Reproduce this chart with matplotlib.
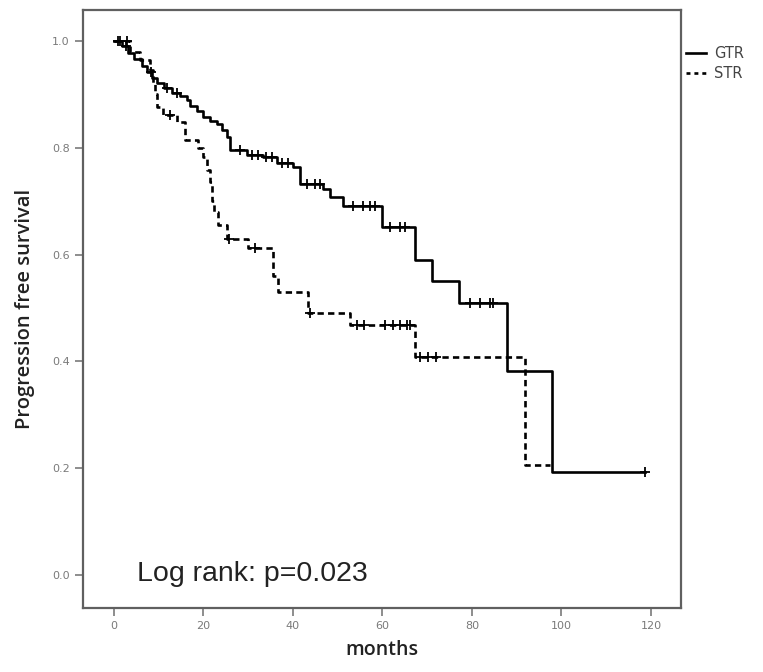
import numpy as np
import matplotlib
matplotlib.use("Agg")
import matplotlib.pyplot as plt
from matplotlib.lines import Line2D

# Kaplan-Meier: tempos dos eventos (meses) e sobrevida apos cada evento
gtr_event_t = [1.8, 3.2, 4.6, 6.2, 7.4, 8.6, 9.6, 11.2, 13.0, 14.8, 16.3, 17.0, 18.5, 19.9,
               21.5, 23.0, 24.2, 25.3, 25.9, 29.7, 33.3, 36.4, 40.0, 41.6, 46.7, 48.3, 51.2,
               59.9, 67.3, 71.1, 77.1, 87.8, 97.9]
gtr_surv = [0.99, 0.978, 0.966, 0.954, 0.942, 0.93, 0.921, 0.912, 0.903, 0.896, 0.889, 0.878,
            0.868, 0.858, 0.851, 0.845, 0.833, 0.82, 0.796, 0.787, 0.783, 0.772, 0.764, 0.732,
            0.722, 0.708, 0.69, 0.652, 0.59, 0.55, 0.509, 0.382, 0.193]
gtr_end = 118.7
gtr_censor = [1.0, 2.6, 8.3, 11.8, 14.0, 28.2, 30.8, 32.2, 33.9, 35.3, 37.5, 38.9, 43.1, 44.9,
              46.0, 53.4, 55.6, 57.2, 58.3, 61.7, 64.0, 65.0, 79.6, 81.8, 84.0, 84.7, 118.7]

str_event_t = [3.6, 5.8, 8.0, 8.7, 9.2, 9.6, 10.9, 14.1, 15.9, 18.8, 19.9, 20.8, 21.5, 21.9,
               22.3, 23.2, 25.3, 29.9, 35.5, 36.6, 43.4, 52.7, 67.3, 91.8]
str_surv = [0.98, 0.965, 0.945, 0.92, 0.90, 0.876, 0.862, 0.848, 0.815, 0.80, 0.783, 0.758,
            0.735, 0.70, 0.68, 0.655, 0.63, 0.612, 0.56, 0.53, 0.49, 0.468, 0.408, 0.206]
str_end = 97.4
str_censor = [1.3, 2.9, 12.5, 25.7, 31.5, 43.8, 54.3, 55.9, 60.6, 62.3, 63.9, 65.5, 66.1,
              68.4, 70.2, 72.0]

x_ticks = [0, 20, 40, 60, 80, 100, 120]
y_ticks = [0.0, 0.2, 0.4, 0.6, 0.8, 1.0]


def curva(tempos, surv, fim):
    t = np.concatenate([[0], tempos, [fim]])
    s = np.concatenate([[1.0], surv, [surv[-1]]])
    return t, s


def surv_em(tempos, surv, pontos):
    t = np.concatenate([[0], tempos])
    s = np.concatenate([[1.0], surv])
    idx = np.searchsorted(t, pontos, side="right") - 1
    return s[idx]


fig = plt.figure(figsize=(7.63, 6.72), dpi=100)
ax = fig.add_axes([83 / 763, 64 / 672, 598 / 763, 598 / 672])

cinza = "#7a7a7a"

t, s = curva(gtr_event_t, gtr_surv, gtr_end)
ax.step(t, s, where="post", color="black", lw=1.9)
ax.plot(gtr_censor, surv_em(gtr_event_t, gtr_surv, gtr_censor), "+", color="black",
        ms=7, mew=1.3)

t, s = curva(str_event_t, str_surv, str_end)
ax.step(t, s, where="post", color="black", lw=1.9, dashes=(2.4, 1.6))
ax.plot(str_censor, surv_em(str_event_t, str_surv, str_censor), "+", color="black",
        ms=7, mew=1.3)

ax.set_xlim(-6.9, 126.7)
ax.set_ylim(-0.062, 1.058)
ax.set_xticks(x_ticks)
ax.set_yticks(y_ticks)
ax.set_yticklabels(["%.1f" % v for v in y_ticks])
ax.tick_params(direction="out", length=6, width=1.2, color=cinza, labelcolor=cinza,
               labelsize=8)
for sp in ax.spines.values():
    sp.set_color("#606060")
    sp.set_linewidth(1.6)

ax.set_xlabel("months", fontsize=14, fontweight="semibold", color="#222222",
              family="Open Sans", labelpad=6)
ax.set_ylabel("Progression free survival", fontsize=14.5, fontweight="semibold",
              color="#222222", family="Open Sans", labelpad=12)

ax.text(0.09, 0.045, "Log rank: p=0.023", transform=ax.transAxes, fontsize=20.5,
        family="Liberation Sans", color="#222222")

handles = [Line2D([0], [0], color="black", lw=1.9),
           Line2D([0], [0], color="black", lw=1.9, dashes=(1.5, 1.5))]
fig.legend(handles, ["GTR", "STR"], loc="upper left", bbox_to_anchor=(686 / 763, 1 - 46 / 672),
           frameon=False, fontsize=10.5, handlelength=1.4, handletextpad=0.5,
           labelspacing=0.35, borderaxespad=0, borderpad=0, labelcolor="#444444")

fig.savefig("out.png", dpi=100)
